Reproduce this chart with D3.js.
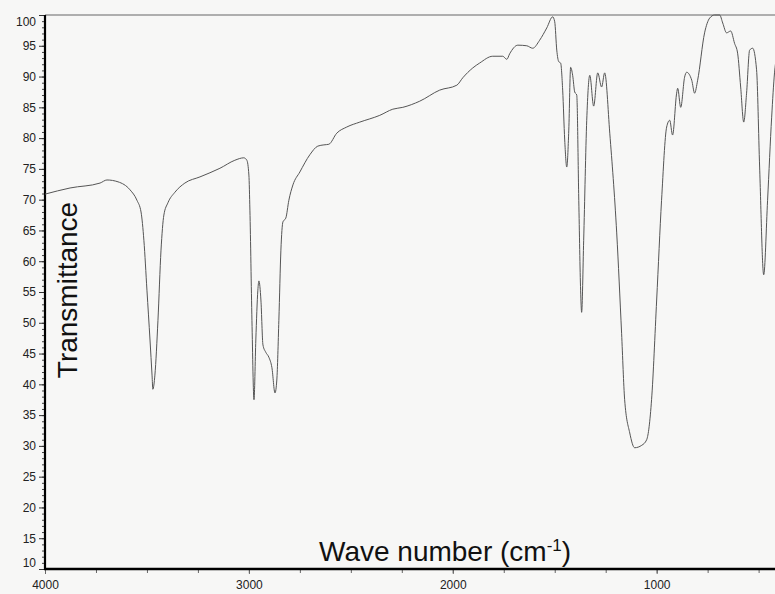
<!DOCTYPE html>
<html>
<head>
<meta charset="utf-8">
<script src="https://cdn.jsdelivr.net/npm/d3@7"></script>
<style>
  body { margin: 0; background: #f7f7f6; }
  svg { display: block; }
  .axis text { font-family: Arial, "Liberation Sans", sans-serif; font-size: 12px; fill: #222; }
  .axis-label { font-family: Arial, "Liberation Sans", sans-serif; font-size: 28px; fill: #111; }
</style>
</head>
<body>
<div id="chart-ir"></div>
<script>
// wave number (cm-1)
var wavenumber = [
  4000, 3877, 3730, 3696, 3642, 3583, 3549, 3529, 3515, 3500, 3485, 3475, 3471, 3461, 3446, 3431,
  3417, 3397, 3363, 3314, 3240, 3142, 3069, 3025, 3010, 3000, 2995, 2985, 2975, 2966, 2956, 2951,
  2941, 2931, 2917, 2902, 2887, 2872, 2863, 2853, 2843, 2833, 2819, 2804, 2784, 2750, 2701, 2662,
  2632, 2608, 2569, 2520, 2456, 2358, 2294, 2245, 2162, 2064, 1980, 1951, 1902, 1868, 1804, 1755,
  1735, 1721, 1681, 1637, 1608, 1574, 1539, 1510, 1500, 1490, 1480, 1471, 1461, 1451, 1441, 1431,
  1422, 1412, 1402, 1392, 1382, 1373, 1368, 1358, 1343, 1328, 1309, 1289, 1270, 1255, 1230, 1196,
  1172, 1157, 1132, 1108, 1073, 1049, 1025, 1000, 976, 951, 936, 922, 902, 897, 882, 863,
  853, 828, 814, 799, 765, 740, 716, 691, 676, 657, 637, 618, 603, 588, 573, 559,
  544, 529, 510, 495, 475, 456, 436, 422, 402
];

// transmittance (%)
var transmittance = [
  70.9, 71.9, 72.7, 73.2, 72.9, 71.6, 69.9, 68.0, 63.4, 55.3, 47.2, 41.5, 39.2, 41.5, 50.4, 61.8,
  67.5, 69.5, 71.2, 72.7, 73.7, 75.1, 76.4, 76.8, 76.4, 74.0, 68.3, 50.4, 37.5, 47.2, 55.3, 56.8,
  53.7, 46.4, 45.2, 44.4, 42.7, 38.6, 40.7, 50.4, 61.8, 66.4, 67.0, 69.9, 72.4, 74.5, 77.3, 78.7,
  78.9, 79.0, 80.8, 81.8, 82.6, 83.7, 84.7, 85.0, 86.0, 87.8, 88.6, 89.8, 91.4, 92.2, 93.3, 93.3,
  92.8, 93.7, 95.1, 95.0, 94.6, 95.9, 97.9, 99.7, 98.9, 94.3, 92.4, 92.2, 87.8, 79.7, 75.3, 81.3,
  91.5, 90.2, 87.5, 87.0, 69.9, 55.3, 51.7, 63.4, 82.9, 90.2, 85.2, 90.6, 88.3, 90.6, 80.8, 64.6,
  48.3, 37.5, 32.1, 29.7, 30.1, 31.0, 37.5, 53.7, 69.9, 81.8, 82.9, 80.5, 87.3, 88.1, 85.0, 89.9,
  90.7, 89.4, 87.3, 89.4, 97.1, 99.5, 100.0, 100.0, 98.7, 97.1, 97.4, 95.4, 93.8, 88.3, 82.6, 87.3,
  94.3, 94.6, 91.1, 75.3, 57.8, 69.9, 83.4, 90.6, 94.3
];

var yTicks = [10, 15, 20, 25, 30, 35, 40, 45, 50, 55, 60, 65, 70, 75, 80, 85, 90, 95, 100];
var xTicks = [4000, 3000, 2000, 1000];

var W = 775, H = 594;
var plotLeft = 45, plotTop = 15, plotBottom = 569;

var x = d3.scaleLinear()
  .domain([4000, 400])
  .range([plotLeft, 779]);

var y = d3.scaleLinear()
  .domain([10, 100])
  .range([plotBottom, plotTop]);

var svg = d3.select('#chart-ir')
  .append('svg')
  .attr('width', W)
  .attr('height', H);

svg.append('rect')
  .attr('width', W)
  .attr('height', H)
  .attr('fill', '#f7f7f6');

// top frame line
svg.append('line')
  .attr('x1', plotLeft).attr('x2', W)
  .attr('y1', plotTop).attr('y2', plotTop)
  .attr('stroke', '#666')
  .attr('stroke-width', 1.2);

// minor ticks on y (every 1 %)
var yMinor = svg.append('g')
  .attr('class', 'axis')
  .attr('transform', 'translate(' + plotLeft + ',0)')
  .call(d3.axisLeft(y).ticks(90).tickSize(3).tickFormat(''));
yMinor.select('.domain').remove();
yMinor.selectAll('line').attr('stroke', '#444');

// major ticks on y
var yAxis = svg.append('g')
  .attr('class', 'axis')
  .attr('transform', 'translate(' + plotLeft + ',0)')
  .call(d3.axisLeft(y).tickValues(yTicks).tickSize(6).tickPadding(3));
yAxis.select('.domain').remove();
yAxis.selectAll('line').attr('stroke', '#333');
yAxis.selectAll('text')
  .attr('dy', function(d) {
    if (d === 100) return '0.85em';
    if (d === 10) return '-0.25em';
    return '0.32em';
  });

// minor ticks on x (every 250)
var xMinor = svg.append('g')
  .attr('class', 'axis')
  .attr('transform', 'translate(0,' + plotBottom + ')')
  .call(d3.axisBottom(x).tickValues(d3.range(4000, 400, -250)).tickSize(4).tickFormat(''));
xMinor.select('.domain').remove();
xMinor.selectAll('line').attr('stroke', '#666');

var xAxis = svg.append('g')
  .attr('class', 'axis')
  .attr('transform', 'translate(0,' + plotBottom + ')')
  .call(d3.axisBottom(x).tickValues(xTicks).tickSize(5).tickPadding(6).tickFormat(d3.format('d')));
xAxis.select('.domain').remove();
xAxis.selectAll('line').attr('stroke', '#666');

// heavy axis lines
svg.append('line')
  .attr('x1', plotLeft).attr('x2', plotLeft)
  .attr('y1', plotTop).attr('y2', plotBottom + 1)
  .attr('stroke', '#000')
  .attr('stroke-width', 2.2);

svg.append('line')
  .attr('x1', plotLeft - 1).attr('x2', W)
  .attr('y1', plotBottom).attr('y2', plotBottom)
  .attr('stroke', '#000')
  .attr('stroke-width', 2.4);

// spectrum
var pts = wavenumber.map(function(d, i) { return [d, transmittance[i]]; });

var line = d3.line()
  .x(function(d) { return x(d[0]); })
  .y(function(d) { return y(d[1]); })
  .curve(d3.curveMonotoneX);

svg.append('path')
  .datum(pts)
  .attr('d', line)
  .attr('fill', 'none')
  .attr('stroke', '#555')
  .attr('stroke-width', 1);

// axis titles
svg.append('text')
  .attr('class', 'axis-label')
  .attr('transform', 'translate(77,290) rotate(-90)')
  .style('text-anchor', 'middle')
  .text('Transmittance');

var xt = svg.append('text')
  .attr('class', 'axis-label')
  .attr('x', 319)
  .attr('y', 561);
xt.append('tspan').text('Wave number (cm');
xt.append('tspan')
  .attr('dy', -10)
  .style('font-size', '17px')
  .text('-1');
xt.append('tspan')
  .attr('dy', 10)
  .text(')');
</script>
</body>
</html>
